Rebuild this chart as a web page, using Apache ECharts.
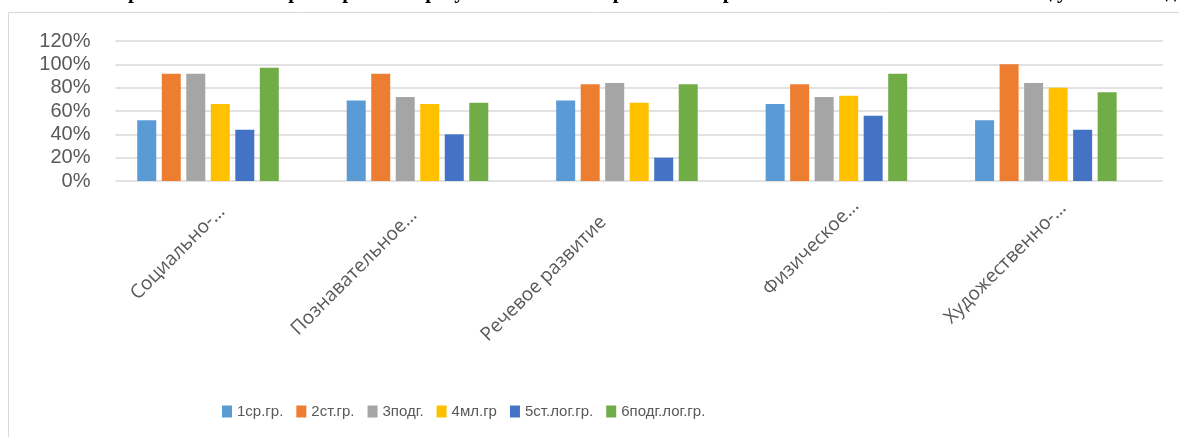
<!DOCTYPE html>
<html>
<head>
<meta charset="utf-8">
<script src="https://cdn.jsdelivr.net/npm/echarts@6/dist/echarts.min.js"></script>
<style>
html,body{margin:0;padding:0;background:#fff;}
#chart{width:1179px;height:437px;}
</style>
</head>
<body>
<div id="chart"></div>
<script>
const categories = ["Социально-коммуникативное развитие", "Познавательное развитие", "Речевое развитие", "Физическое развитие", "Художественно-эстетическое развитие"];
const tickLabels = ["Социально-…", "Познавательное…", "Речевое развитие", "Физическое…", "Художественно-…"];
const seriesNames = ["1ср.гр.", "2ст.гр.", "3подг.", "4мл.гр", "5ст.лог.гр.", "6подг.лог.гр."];
const s1 = [52, 69, 69, 66, 52];
const s2 = [92, 92, 83, 83, 100];
const s3 = [92, 72, 84, 72, 84];
const s4 = [66, 66, 67, 73, 80];
const s5 = [44, 40, 20, 56, 44];
const s6 = [97, 67, 83, 92, 76];
const yTicks = [0, 20, 40, 60, 80, 100, 120];
const titleText = "Сравнительная характеристика результатов мониторинга по образовательным областям на конец учебного года..";

const colors = ["#5B9BD5", "#ED7D31", "#A5A5A5", "#FFC000", "#4472C4", "#70AD47"];
const allData = [s1, s2, s3, s4, s5, s6];
// per-label nudges (in the rotated label frame) to mimic Excel's label placement
const labelPads = [[0, -10, 0, 0], [0, 5, 0, 0], [0, 24, 0, 0], [0, -18, 0, 0], [0, -15, 0, 0]];
const labelVAlign = ['top', 'middle', 'bottom', 'top', 'top'];

const chart = echarts.init(document.getElementById('chart'), null, {renderer: 'canvas'});
const option = {
  animation: false,
  backgroundColor: '#fff',
  graphic: [
    {type: 'rect', shape: {x: 8.5, y: 12.5, width: 1300, height: 600}, style: {fill: 'none', stroke: '#d9d9d9', lineWidth: 1}, silent: true, z: -10},
    {type: 'text', x: 655, y: 3, style: {text: titleText, font: 'bold 21px "Liberation Serif"', fill: '#000', align: 'center', verticalAlign: 'bottom'}, silent: true}
  ],
  legend: {
    data: seriesNames,
    left: 217,
    top: 399,
    icon: 'rect',
    itemWidth: 10,
    itemHeight: 12,
    itemGap: 13,
    textStyle: {fontFamily: '"Liberation Sans", sans-serif', fontSize: 15, color: '#595959'}
  },
  grid: [
    {left: 103.3, right: 28.4, top: 41, bottom: 256, containLabel: false},
    {left: 115.5, right: 16, top: 41, bottom: 256, containLabel: false}
  ],
  xAxis: [
    {type: 'category', gridIndex: 0,
     data: categories.map((c, i) => ({value: c, textStyle: {padding: labelPads[i], verticalAlign: labelVAlign[i]}})),
     axisLine: {show: false}, axisTick: {show: false},
     axisLabel: {rotate: 45, margin: 28, interval: 0, color: '#595959', fontFamily: '"Open Sans", sans-serif', fontSize: 19,
       formatter: (v, i) => tickLabels[i]}},
    {type: 'category', gridIndex: 1, data: categories, show: false}
  ],
  yAxis: [
    {type: 'value', gridIndex: 0, min: 0, max: 120, interval: 20, show: false},
    {type: 'value', gridIndex: 1, min: 0, max: 120, interval: 20,
     axisLine: {show: false}, axisTick: {show: false},
     splitLine: {lineStyle: {color: '#d9d9d9', width: 1.5}},
     axisLabel: {formatter: '{value}%', color: '#595959', fontFamily: '"Liberation Sans", sans-serif', fontSize: 20, margin: 25}}
  ],
  series: seriesNames.map((n, i) => ({
    name: n, type: 'bar', xAxisIndex: 0, yAxisIndex: 0,
    data: allData[i], barWidth: 19, barGap: '29%',
    itemStyle: {color: colors[i]}
  }))
};
chart.setOption(option);
</script>
</body>
</html>
